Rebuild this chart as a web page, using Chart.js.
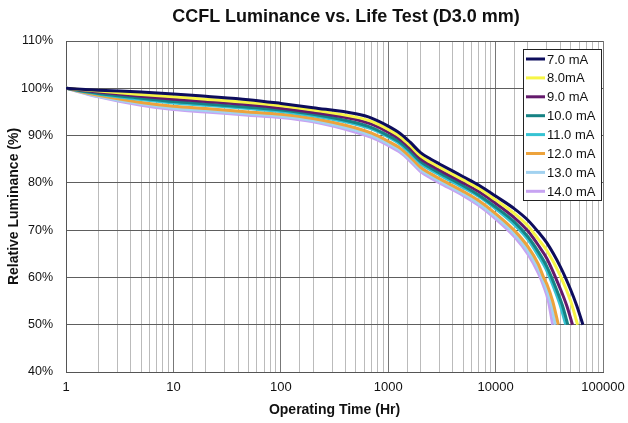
<!DOCTYPE html>
<html>
<head>
<meta charset="utf-8">
<script src="https://cdn.jsdelivr.net/npm/chart.js@4"></script>
<style>
  html, body { margin: 0; padding: 0; background: #fff; }
  #wrap { width: 628px; height: 423px; position: relative; }
</style>
</head>
<body>
<div id="wrap"><canvas id="lifeChart"></canvas></div>
<script>
// Luminance vs operating time, one curve per lamp current
const hours = [1, 2, 5, 10, 20, 50, 100, 200, 500, 700, 1000, 1300, 1600, 2000, 2500, 3000, 5000, 7000, 10000, 15000, 20000, 25000];

const lum7  = [100, 99.6, 99.2, 98.8, 98.3, 97.6, 96.8, 95.9, 94.6, 93.7, 92.0, 90.4, 88.6, 86.4, 85.0, 84.0, 81.3, 79.5, 77.2, 74.5, 72.1, 69.6];
const lum8  = [100, 99.4, 98.7, 98.2, 97.7, 97.0, 96.3, 95.4, 93.9, 93.0, 91.3, 89.7, 87.9, 85.7, 84.3, 83.3, 80.6, 78.8, 76.4, 73.5, 70.9, 68.1];
const lum9  = [100, 99.2, 98.3, 97.7, 97.2, 96.5, 95.8, 94.9, 93.4, 92.4, 90.7, 89.1, 87.3, 85.1, 83.7, 82.7, 80.0, 78.1, 75.7, 72.6, 69.8, 66.8];
const lum10 = [100, 98.9, 97.9, 97.2, 96.7, 96.0, 95.4, 94.5, 92.7, 91.7, 90.0, 88.5, 86.7, 84.5, 83.1, 82.1, 79.4, 77.4, 74.9, 71.7, 68.6, 65.4];
const lum11 = [100, 98.8, 97.6, 96.9, 96.4, 95.7, 95.1, 94.2, 92.4, 91.4, 89.7, 88.1, 86.3, 84.1, 82.7, 81.7, 79.0, 77.1, 74.5, 71.1, 68.0, 64.6];
const lum12 = [100, 98.5, 97.0, 96.2, 95.7, 95.0, 94.5, 93.6, 91.6, 90.5, 88.8, 87.3, 85.5, 83.3, 81.9, 80.9, 78.2, 76.2, 73.5, 69.9, 66.5, 62.8];
const lum13 = [100, 98.3, 96.7, 95.8, 95.3, 94.6, 94.1, 93.2, 91.1, 90.0, 88.3, 86.8, 85.0, 82.8, 81.4, 80.4, 77.7, 75.6, 72.9, 69.2, 65.6, 61.8];
const lum14 = [100, 98.2, 96.4, 95.5, 95.0, 94.3, 93.8, 92.9, 90.7, 89.6, 87.9, 86.4, 84.6, 82.4, 81.0, 80.0, 77.3, 75.2, 72.4, 68.6, 64.9, 60.9];

// end-of-life tails (hours, luminance) down to 50%
const tailHours7  = [30000, 40000, 50000, 57000, 65000];
const tailLum7    = [67.3, 62.3, 57.4, 54.0, 50];
const tailHours8  = [30000, 40000, 50000, 58000];
const tailLum8    = [65.7, 60.4, 55.0, 50];
const tailHours9  = [30000, 40000, 46000, 52000];
const tailLum9    = [64.0, 57.6, 54.0, 50];
const tailHours10 = [30000, 37000, 42000, 47000];
const tailLum10   = [62.3, 57.4, 54.0, 50];
const tailHours11 = [30000, 36000, 40000, 45000];
const tailLum11   = [61.4, 57.0, 54.1, 50];
const tailHours12 = [28000, 30000, 34000, 38400];
const tailLum12   = [60.0, 58.6, 55.0, 50];
const tailHours13 = [28000, 31000, 33500, 36000];
const tailLum13   = [59.1, 56.4, 53.6, 50];
const tailHours14 = [28000, 31000, 34000];
const tailLum14   = [58.2, 55.0, 50];

const seriesNames  = ['7.0 mA', '8.0mA', '9.0 mA', '10.0 mA', '11.0 mA', '12.0 mA', '13.0 mA', '14.0 mA'];
const seriesColors = ['#0d0d5c', '#f6f545', '#641a6c', '#168284', '#36c3d3', '#eda33c', '#a2d2f0', '#c7a3f2'];
const yTicks = [40, 50, 60, 70, 80, 90, 100, 110];

const lumSets  = [lum7, lum8, lum9, lum10, lum11, lum12, lum13, lum14];
const tailHrs  = [tailHours7, tailHours8, tailHours9, tailHours10, tailHours11, tailHours12, tailHours13, tailHours14];
const tailLums = [tailLum7, tailLum8, tailLum9, tailLum10, tailLum11, tailLum12, tailLum13, tailLum14];

function toPoints(i) {
  const pts = hours.map((h, k) => ({ x: h, y: lumSets[i][k] }));
  tailHrs[i].forEach((h, k) => pts.push({ x: h, y: tailLums[i][k] }));
  return pts;
}

const datasets = seriesNames.map((name, i) => ({
  label: name,
  data: toPoints(i),
  borderColor: seriesColors[i],
  backgroundColor: seriesColors[i],
  borderWidth: 3,
  pointRadius: 0,
  cubicInterpolationMode: 'monotone',
  fill: false
}));

const isDecade = v => Math.abs(Math.log10(v) - Math.round(Math.log10(v))) < 1e-9;

// title + boxed legend drawn on the canvas
const decorations = {
  id: 'decorations',
  beforeDraw(chart) {
    const ctx = chart.ctx;
    ctx.save();
    ctx.fillStyle = '#fff';
    ctx.fillRect(0, 0, chart.width, chart.height);
    ctx.restore();
  },
  afterDraw(chart) {
    const ctx = chart.ctx;
    ctx.save();
    ctx.fillStyle = '#111';
    ctx.font = 'bold 18px "Liberation Sans", Arial, sans-serif';
    ctx.textAlign = 'center';
    ctx.textBaseline = 'middle';
    ctx.fillText('CCFL Luminance vs. Life Test (D3.0 mm)', 346, 17);

    // legend box
    const bx = 523, by = 49, bw = 78, bh = 151, row = 18.9;
    ctx.fillStyle = '#fff';
    ctx.fillRect(bx, by, bw, bh);
    ctx.strokeStyle = '#222';
    ctx.lineWidth = 1;
    ctx.strokeRect(bx + 0.5, by + 0.5, bw, bh);
    ctx.font = '13px "Liberation Sans", Arial, sans-serif';
    ctx.textAlign = 'left';
    chart.data.datasets.forEach((ds, i) => {
      const y = by + 10 + i * row;
      ctx.strokeStyle = ds.borderColor;
      ctx.lineWidth = 3;
      ctx.beginPath();
      ctx.moveTo(bx + 3, y);
      ctx.lineTo(bx + 22, y);
      ctx.stroke();
      ctx.fillStyle = '#111';
      ctx.fillText(ds.label, bx + 24, y + 1);
    });
    ctx.restore();
  }
};

new Chart(document.getElementById('lifeChart').getContext('2d'), {
  type: 'line',
  data: { datasets },
  options: {
    responsive: true,
    maintainAspectRatio: false,
    animation: false,
    layout: { padding: { top: 41, right: 25, left: 4, bottom: 0 } },
    plugins: { legend: { display: false }, tooltip: { enabled: false } },
    scales: {
      x: {
        type: 'logarithmic',
        min: 1,
        max: 100000,
        afterFit: s => { s.height = 51; s.paddingLeft = 0; s.paddingRight = 0; },
        grid: {
          color: c => (c.tick && isDecade(c.tick.value)) ? '#777' : '#bbb',
          lineWidth: 1,
          drawTicks: false
        },
        border: { color: '#555' },
        ticks: {
          autoSkip: false,
          maxRotation: 0,
          padding: 8,
          color: '#111',
          font: { family: '"Liberation Sans", Arial, sans-serif', size: 13 },
          callback: v => isDecade(v) ? String(v) : ''
        },
        title: {
          display: true,
          text: 'Operating Time (Hr)',
          color: '#111',
          padding: { top: 12 },
          font: { family: '"Liberation Sans", Arial, sans-serif', size: 14, weight: 'bold' }
        }
      },
      y: {
        min: 40,
        max: 110,
        afterFit: s => { s.width = 62; },
        afterBuildTicks: s => { s.ticks = yTicks.map(v => ({ value: v })); },
        grid: { color: '#5e5e5e', drawTicks: false },
        border: { color: '#555' },
        ticks: {
          padding: 13,
          color: '#111',
          font: { family: '"Liberation Sans", Arial, sans-serif', size: 12.5 },
          callback: v => v + '%'
        },
        title: {
          display: true,
          text: 'Relative Luminance (%)',
          color: '#111',
          padding: { top: 2, bottom: 0 },
          font: { family: '"Liberation Sans", Arial, sans-serif', size: 14, weight: 'bold' }
        }
      }
    }
  },
  plugins: [decorations]
});
</script>
</body>
</html>
